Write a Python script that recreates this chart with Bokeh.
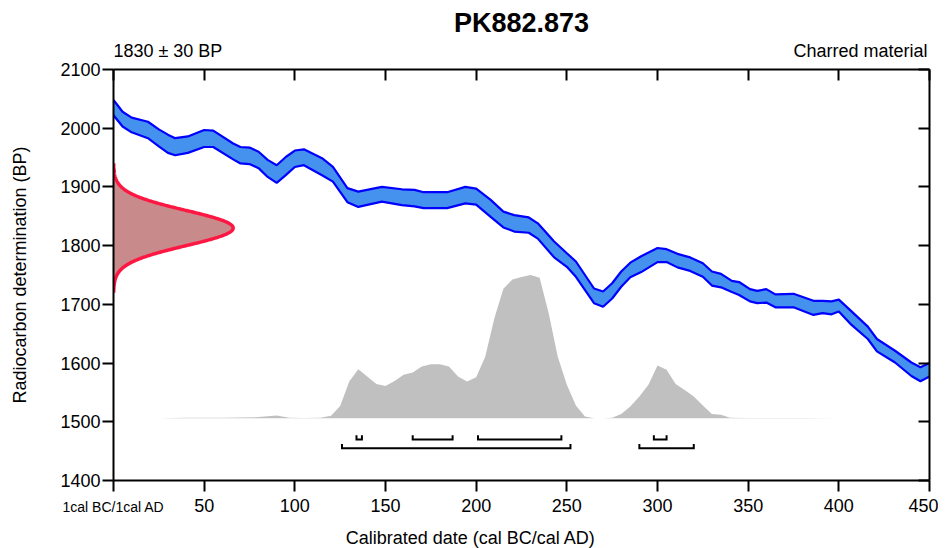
import numpy as np
from bokeh.plotting import figure
from bokeh.models import Range1d, LinearAxis, FixedTicker
from bokeh.embed import file_html
from bokeh.resources import INLINE

# ---------------- data ----------------
title_text = "PK882.873"
date_text = "1830 ± 30 BP"
material_text = "Charred material"
x_label_text = "Calibrated date (cal BC/cal AD)"
y_label_text = "Radiocarbon determination (BP)"
zero_label_text = "1cal BC/1cal AD"

c14_mean = 1830
c14_error = 30

curve_years = [0, 5, 10, 19, 25, 30, 34, 41, 50, 55, 66, 70, 75, 80, 85, 90, 95, 100,
               105, 115, 121, 129, 135, 148, 159, 166, 171, 184, 194, 200, 208, 215,
               221, 229, 234, 243, 250, 255, 265, 270, 275, 280, 285, 291, 300, 305,
               311, 318, 325, 330, 335, 341, 345, 351, 355, 360, 365, 375, 386, 391,
               396, 400, 407, 416, 421, 431, 440, 445, 450]
curve_upper = [2048, 2028, 2018, 2011, 1998, 1989, 1983, 1986, 1997, 1996, 1974, 1968,
               1967, 1960, 1946, 1937, 1951, 1962, 1964, 1949, 1934, 1898, 1892, 1900,
               1896, 1895, 1891, 1891, 1900, 1897, 1878, 1858, 1852, 1848, 1838, 1807,
               1787, 1773, 1727, 1722, 1736, 1756, 1771, 1782, 1796, 1794, 1786, 1780,
               1770, 1756, 1752, 1740, 1738, 1726, 1723, 1726, 1717, 1718, 1706, 1706,
               1705, 1708, 1688, 1662, 1641, 1621, 1601, 1593, 1600]
curve_lower = [2022, 2003, 1993, 1983, 1969, 1958, 1954, 1958, 1968, 1968, 1947, 1940,
               1939, 1932, 1917, 1907, 1920, 1934, 1937, 1920, 1909, 1874, 1866, 1875,
               1869, 1867, 1864, 1864, 1872, 1870, 1849, 1831, 1824, 1822, 1812, 1780,
               1764, 1747, 1702, 1696, 1710, 1730, 1746, 1755, 1772, 1772, 1763, 1757,
               1747, 1732, 1729, 1721, 1716, 1705, 1702, 1703, 1695, 1695, 1682, 1685,
               1683, 1688, 1665, 1641, 1620, 1601, 1578, 1569, 1577]

prob_years = [25, 40, 60, 80, 90, 97, 105, 114, 120, 125, 130, 135, 145, 150, 155, 160,
              165, 170, 175, 180, 185, 190, 195, 200, 205, 210, 215, 220, 225, 230,
              235, 240, 245, 250, 255, 260, 265, 270, 275, 280, 285, 290, 295, 300,
              305, 310, 315, 320, 325, 330, 335, 340, 350, 380, 400]
prob_values = [0.0, 0.003, 0.004, 0.008, 0.019, 0.003, 0.002, 0.004, 0.017, 0.086,
               0.256, 0.342, 0.240, 0.226, 0.260, 0.303, 0.320, 0.361, 0.377, 0.377,
               0.361, 0.291, 0.256, 0.287, 0.430, 0.697, 0.904, 0.968, 0.986, 1.0,
               0.981, 0.733, 0.430, 0.234, 0.089, 0.012, 0.0, 0.0, 0.004, 0.029,
               0.082, 0.152, 0.234, 0.368, 0.338, 0.240, 0.197, 0.152, 0.089, 0.029,
               0.025, 0.004, 0.002, 0.001, 0.0]

hpd68 = [(134, 137), (165, 187), (201, 247), (298, 305)]
hpd95 = [(126, 252), (290, 320)]

x_ticks = [0, 50, 100, 150, 200, 250, 300, 350, 400, 450]
y_ticks = [1400, 1500, 1600, 1700, 1800, 1900, 2000, 2100]

# anchor positions (x-axis units) for the texts placed as axis labels
date_anchor = 30
material_anchor = 412
xlabel_anchor = 197
zero_anchor = 0

# ---------------- style ----------------
FONT = "Liberation Sans"
BAND_FILL = "#4492ed"
BAND_LINE = "#0000ff"
RED_LINE = "#ff1744"
RED_FILL = "#c88a8a"
GREY = "#c0c0c0"

prob_base = 1506
prob_height = 244
gauss_amp = 66
gauss_span = 3.67
row68_y = 1470
row95_y = 1455
bracket_h = 7

p = figure(frame_width=816, frame_height=411,
           x_range=Range1d(0, 450), y_range=Range1d(1400, 2100),
           output_backend="svg", toolbar_location=None,
           x_axis_location=None, y_axis_location=None,
           min_border_left=113, min_border_right=9,
           min_border_top=69, min_border_bottom=68)
p.xgrid.visible = False
p.ygrid.visible = False
p.outline_line_color = None
p.background_fill_color = "white"
p.border_fill_color = "white"

# probability distribution (grey)
pv = np.array(prob_values)
p.varea(x=prob_years, y1=[prob_base] * len(prob_years),
        y2=list(prob_base + pv * prob_height), fill_color=GREY)

# calibration curve band
p.varea(x=curve_years, y1=curve_lower, y2=curve_upper, fill_color=BAND_FILL)
p.line(curve_years, curve_upper, line_color=BAND_LINE, line_width=2.2)
p.line(curve_years, curve_lower, line_color=BAND_LINE, line_width=2.2)

# radiocarbon date normal distribution (red)
gy = np.linspace(c14_mean - gauss_span * c14_error, c14_mean + gauss_span * c14_error, 300)
gx = gauss_amp * np.exp(-0.5 * ((gy - c14_mean) / c14_error) ** 2)
p.harea(y=gy, x1=np.zeros_like(gx), x2=gx, fill_color=RED_FILL)
p.line(gx, gy, line_color=RED_LINE, line_width=3.5)

# HPD range brackets
bx, by = [], []
for (a, b) in hpd68:
    bx.append([a, a, b, b]); by.append([row68_y + bracket_h, row68_y, row68_y, row68_y + bracket_h])
for (a, b) in hpd95:
    bx.append([a, a, b, b]); by.append([row95_y + bracket_h, row95_y, row95_y, row95_y + bracket_h])
p.multi_line(bx, by, line_color="black", line_width=2, line_join="miter")

# ---------------- axes ----------------
def style_axis(ax, size="18px"):
    ax.axis_line_width = 2
    ax.axis_line_color = "black"
    ax.major_tick_line_width = 2
    ax.major_tick_line_color = "black"
    ax.minor_tick_line_color = None
    ax.major_label_text_font = FONT
    ax.major_label_text_font_size = size
    ax.major_label_text_color = "black"

def text_axis(ticks, labels, size, standoff):
    ax = LinearAxis(ticker=FixedTicker(ticks=ticks, minor_ticks=[]))
    style_axis(ax, size)
    ax.axis_line_color = None
    ax.major_tick_line_color = None
    ax.major_tick_out = 0
    ax.major_tick_in = 0
    ax.major_label_standoff = standoff
    ax.major_label_overrides = dict(zip(ticks, labels))
    return ax

left = LinearAxis(ticker=FixedTicker(ticks=y_ticks, minor_ticks=[]))
style_axis(left)
left.major_tick_out = 11
left.major_tick_in = 0
left.major_label_standoff = 2
left.axis_label = y_label_text
left.axis_label_text_font = FONT
left.axis_label_text_font_size = "18px"
left.axis_label_text_font_style = "normal"
left.axis_label_text_color = "black"
left.axis_label_standoff = 27
p.add_layout(left, "left")

bottom = LinearAxis(ticker=FixedTicker(ticks=x_ticks, minor_ticks=[]))
style_axis(bottom)
bottom.major_tick_out = 11
bottom.major_tick_in = 0
bottom.major_label_standoff = 7
bottom.major_label_overrides = {0: ""}
p.add_layout(bottom, "below")

p.add_layout(text_axis([zero_anchor], [zero_label_text], "14px", -16), "below")
p.add_layout(text_axis([xlabel_anchor], [x_label_text], "18px", 10), "below")

top = LinearAxis(ticker=FixedTicker(ticks=x_ticks, minor_ticks=[]))
style_axis(top)
top.major_tick_out = 0
top.major_tick_in = 11
top.major_label_text_color = None
top.major_label_text_font_size = "1px"
top.major_label_standoff = 0
p.add_layout(top, "above")

p.add_layout(text_axis([date_anchor, material_anchor], [date_text, material_text], "18px", 9), "above")

right = LinearAxis(ticker=FixedTicker(ticks=y_ticks, minor_ticks=[]))
style_axis(right)
right.major_tick_out = 0
right.major_tick_in = 11
right.major_label_text_color = None
right.major_label_text_font_size = "1px"
right.major_label_standoff = 0
p.add_layout(right, "right")

# title
p.title.text = title_text
p.title.align = "center"
p.title.text_font = FONT
p.title.text_font_size = "27px"
p.title.text_font_style = "bold"
p.title.text_color = "black"
p.title.standoff = 0

open("out.html", "w").write(file_html(p, INLINE))
